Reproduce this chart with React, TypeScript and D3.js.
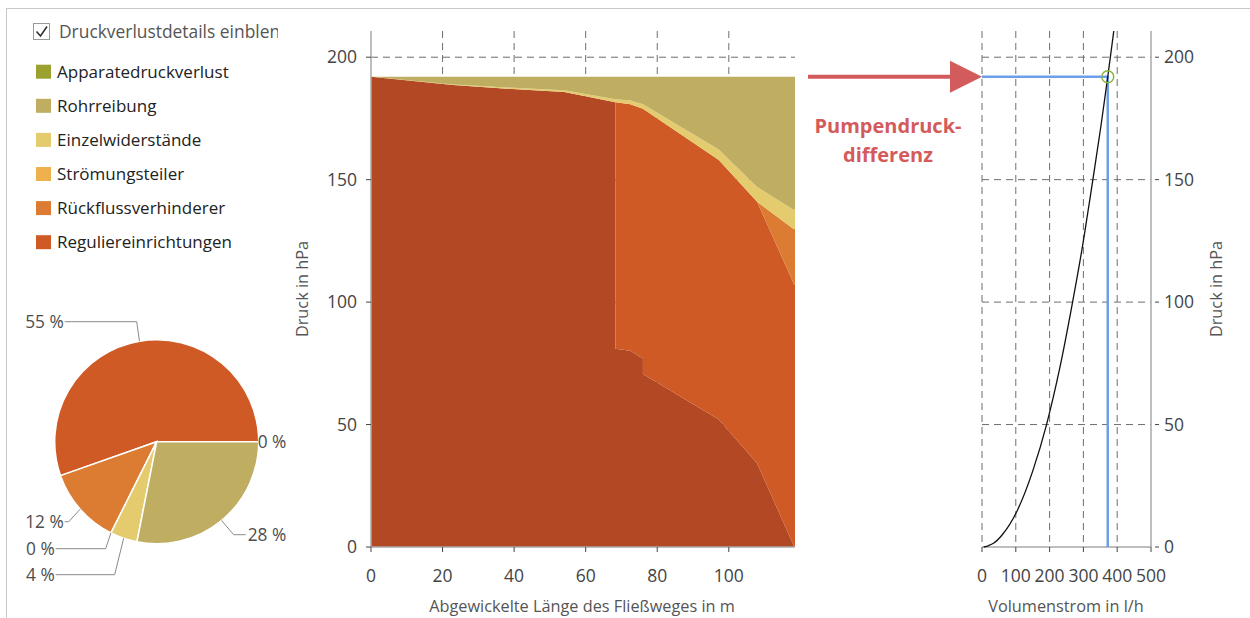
import React from 'react';
import * as d3 from 'd3';

const W = 1250;
const H = 618;
const FONT = '"Open Sans", "Noto Sans", sans-serif';

// ---------- legend ----------
const legendLabels = [
  'Apparatedruckverlust',
  'Rohrreibung',
  'Einzelwiderstände',
  'Strömungsteiler',
  'Rückflussverhinderer',
  'Reguliereinrichtungen',
];
const legendColors = ['#9AA12E', '#BFAD62', '#E3CB6E', '#EFB04E', '#DC7C33', '#D05A25'];

// ---------- stacked pressure along flow path (hPa) ----------
const pathLength = [0, 23, 37, 54, 68.3, 68.3, 72.5, 76, 76, 97.2, 107.9, 118.2, 118.5];
const remainingPressure = [192, 188.6, 187.2, 185.8, 181.6, 81, 80.1, 77, 70.6, 52.1, 34.2, 0.4, 0];
const regulierLoss = [0, 0, 0, 0, 0, 100.6, 100.7, 102, 108.4, 105.9, 106.8, 107, 107];
const rueckflussLoss = [0, 0, 0, 0, 0, 0, 0, 0, 0, 0, 0, 22.3, 23];
const stroemungLoss = [0, 0, 0, 0, 0, 0, 0, 0, 0, 0, 0, 0, 0];
const einzelLoss = [0, 0.3, 0.5, 0.7, 1.2, 1.2, 1.5, 1.8, 1.8, 4.3, 6, 7.9, 8];
const rohrLoss = [0, 3.1, 4.3, 5.5, 9.2, 9.2, 9.7, 11.2, 11.2, 29.7, 45, 54.4, 54];
const apparatLoss = [0, 0, 0, 0, 0, 0, 0, 0, 0, 0, 0, 0, 0];

const stackKeys = ['remaining', 'regulier', 'rueckfluss', 'stroemung', 'einzel', 'rohr', 'apparat'];
const stackColors = ['#B34824', '#D05A25', '#DC7C33', '#EFB04E', '#E3CB6E', '#BFAD62', '#9AA12E'];

const xTicksMain = [0, 20, 40, 60, 80, 100];
const yTicks = [0, 50, 100, 150, 200];
const flowTicks = [0, 100, 200, 300, 400, 500];

// ---------- pie ----------
const pieNames = ['Reguliereinrichtungen', 'Rückflussverhinderer', 'Strömungsteiler', 'Einzelwiderstände', 'Rohrreibung', 'Apparatedruckverlust'];
const pieShares = [55.4, 12.2, 0, 4.3, 28.1, 0];
const pieLabelText = ['55 %', '12 %', '0 %', '4 %', '28 %', '0 %'];
const pieColors = ['#D05A25', '#DC7C33', '#EFB04E', '#E3CB6E', '#BFAD62', '#9AA12E'];
// label layout relative to pie centre: elbow and text anchor
const pieLabelLayout = [
  { ex: -20, ey: -120, tx: -93, side: 'left' },
  { ex: -88, ey: 80, tx: -93, side: 'left' },
  { ex: -51, ey: 107, tx: -102, side: 'left' },
  { ex: -42, ey: 133, tx: -102, side: 'left' },
  { ex: 77, ey: 93, tx: 90, side: 'right' },
  { ex: 101, ey: 0, tx: 100, side: 'right' },
];

// ---------- system curve (flow l/h vs pressure hPa) ----------
const curveFlow = [5, 20, 34, 60, 103, 150, 191, 230, 268, 300, 328, 352, 372, 395];
const curvePressure = [0, 0.6, 1.5, 5, 14.5, 31, 50, 73, 100, 125, 150, 172, 192, 216];
const operatingFlow = 372;
const operatingPressure = 192;

export default function App() {
  const yTop = 31;
  const yBottom = 547;
  const y = d3.scaleLinear().domain([0, 210.7]).range([yBottom, yTop]);
  const x = d3.scaleLinear().domain([0, 118.5]).range([371, 795]);
  const xf = d3.scaleLinear().domain([0, 500]).range([982, 1151]);

  const rows = pathLength.map((d, i) => ({
    x: d,
    remaining: remainingPressure[i],
    regulier: regulierLoss[i],
    rueckfluss: rueckflussLoss[i],
    stroemung: stroemungLoss[i],
    einzel: einzelLoss[i],
    rohr: rohrLoss[i],
    apparat: apparatLoss[i],
  }));
  const series = d3.stack<any>().keys(stackKeys)(rows);
  const area = d3
    .area<any>()
    .x((d) => x(d.data.x))
    .y0((d) => y(d[0]))
    .y1((d) => y(d[1]));

  const pcx = 156.7;
  const pcy = 441.7;
  const pr = 102;
  const pie = d3
    .pie<number>()
    .sort(null)
    .value((d) => d)
    .startAngle(Math.PI / 2)
    .endAngle(Math.PI / 2 - 2 * Math.PI);
  const arcs = pie(pieShares);
  const arcGen = d3.arc<any>().innerRadius(0).outerRadius(pr);

  const curveLine = d3
    .line<number>()
    .x((_, i) => xf(curveFlow[i]))
    .y((d) => y(d))
    .curve(d3.curveMonotoneX);

  const gridColor = '#6e6e6e';
  const dash = '7,5';
  const axisColor = '#a8a8a8';
  const tickText = '#444';
  const tickSize = 17.5;

  const opX = xf(operatingFlow);
  const opY = y(operatingPressure);

  return (
    <svg
      width={W}
      height={H}
      style={{ position: 'absolute', left: 0, top: 0, background: '#fff', fontFamily: FONT }}
    >
      <defs>
        <clipPath id="clipLegendTitle">
          <rect x={0} y={0} width={278} height={60} />
        </clipPath>
        <clipPath id="clipRight">
          <rect x={975} y={yTop} width={190} height={yBottom - yTop + 2} />
        </clipPath>
      </defs>
      <rect x={0} y={0} width={W} height={H} fill="#fff" />
      <line x1={6} y1={8.5} x2={W} y2={8.5} stroke="#c8c8c8" strokeWidth={1} />
      <line x1={6.5} y1={8} x2={6.5} y2={H} stroke="#c8c8c8" strokeWidth={1} />

      <rect x={33.5} y={23.5} width={16} height={16} fill="#fff" stroke="#9a9a9a" strokeWidth={1} />
      <path d="M36.5,31.5 L40.5,36 L47,26.5" fill="none" stroke="#333" strokeWidth={1.6} />
      <text x={59} y={32} dy="0.35em" fontSize={17.4} fill="#555" clipPath="url(#clipLegendTitle)">
        Druckverlustdetails einblenden
      </text>

      {legendLabels.map((lab, i) => {
        const cy = 71.7 + i * 34.1;
        return (
          <g key={lab}>
            <rect x={36} y={cy - 7} width={15} height={14} fill={legendColors[i]} />
            <text x={57} y={cy} dy="0.35em" fontSize={17} fill="#222">
              {lab}
            </text>
          </g>
        );
      })}

      <g transform={`translate(${pcx},${pcy})`}>
        {arcs.map((a, i) =>
          a.value > 0 ? (
            <path key={i} d={arcGen(a) as string} fill={pieColors[i]} stroke="#fff" strokeWidth={1.5} />
          ) : null
        )}
        {arcs.map((a, i) => {
          const mid = (a.startAngle + a.endAngle) / 2;
          const ex0 = pr * Math.sin(mid);
          const ey0 = -pr * Math.cos(mid);
          const L = pieLabelLayout[i];
          const left = L.side === 'left';
          return (
            <g key={'l' + i}>
              {i !== 5 && (
                <polyline
                  points={`${ex0},${ey0} ${L.ex},${L.ey} ${left ? L.tx + 1 : L.tx - 1},${L.ey}`}
                  fill="none"
                  stroke="#8a8a8a"
                  strokeWidth={1}
                />
              )}
              <text
                x={left ? L.tx : L.tx + 1}
                y={L.ey}
                dy="0.35em"
                textAnchor={left ? 'end' : 'start'}
                fontSize={17.3}
                fill="#4d4d4d"
              >
                {pieLabelText[i]}
              </text>
            </g>
          );
        })}
      </g>

      {yTicks.filter((t) => t > 0).map((t) => (
        <line key={'hg' + t} x1={x(0)} x2={x(118.5)} y1={y(t)} y2={y(t)} stroke={gridColor} strokeDasharray={dash} />
      ))}
      {xTicksMain.filter((t) => t > 0).map((t) => (
        <line key={'vg' + t} x1={x(t)} x2={x(t)} y1={yTop} y2={yBottom} stroke={gridColor} strokeDasharray={dash} />
      ))}

      {series.map((s, i) => (
        <path key={stackKeys[i]} d={area(s as any) as string} fill={stackColors[i]} stroke="none" />
      ))}

      <line x1={x(0)} x2={x(0)} y1={yTop} y2={yBottom} stroke={axisColor} strokeWidth={1.5} />
      <line x1={x(0)} x2={x(118.5)} y1={yBottom} y2={yBottom} stroke={axisColor} strokeWidth={1.5} />
      {yTicks.map((t) => (
        <g key={'yt' + t}>
          <line x1={x(0) - 5} x2={x(0)} y1={y(t)} y2={y(t)} stroke="#444" />
          <text x={357} y={y(t)} dy="0.35em" textAnchor="end" fontSize={tickSize} fill={tickText}>
            {t}
          </text>
        </g>
      ))}
      {xTicksMain.map((t) => (
        <g key={'xt' + t}>
          <line x1={x(t)} x2={x(t)} y1={yBottom} y2={yBottom + 5} stroke="#444" />
          <text x={x(t)} y={576} dy="0.35em" textAnchor="middle" fontSize={tickSize} fill={tickText}>
            {t}
          </text>
        </g>
      ))}
      <text
        transform={`translate(302,${(yTop + yBottom) / 2}) rotate(-90)`}
        textAnchor="middle"
        dy="0.35em"
        fontSize={16.3}
        fill="#555"
      >
        Druck in hPa
      </text>
      <text x={582} y={606} dy="0.35em" textAnchor="middle" fontSize={16.3} fill="#555">
        Abgewickelte Länge des Fließweges in m
      </text>

      {yTicks.filter((t) => t > 0).map((t) => (
        <line key={'rhg' + t} x1={xf(0)} x2={xf(500)} y1={y(t)} y2={y(t)} stroke={gridColor} strokeDasharray={dash} />
      ))}
      {flowTicks.filter((t) => t < 500).map((t) => (
        <line key={'rvg' + t} x1={xf(t)} x2={xf(t)} y1={yTop} y2={yBottom} stroke={gridColor} strokeDasharray={dash} />
      ))}
      <line x1={xf(500)} x2={xf(500)} y1={yTop} y2={yBottom} stroke={axisColor} strokeWidth={1.5} />
      <line x1={xf(0)} x2={xf(500)} y1={yBottom} y2={yBottom} stroke={axisColor} strokeWidth={1.5} />
      {flowTicks.map((t) => (
        <g key={'ft' + t}>
          <line x1={xf(t)} x2={xf(t)} y1={yBottom} y2={yBottom + 5} stroke="#444" />
          <text x={xf(t)} y={576} dy="0.35em" textAnchor="middle" fontSize={tickSize} fill={tickText}>
            {t}
          </text>
        </g>
      ))}
      {yTicks.map((t) => (
        <g key={'ryt' + t}>
          <line x1={xf(500) + 4} x2={xf(500) + 8} y1={y(t)} y2={y(t)} stroke="#444" />
          <text x={1164} y={y(t)} dy="0.35em" textAnchor="start" fontSize={tickSize} fill={tickText}>
            {t}
          </text>
        </g>
      ))}
      <text
        transform={`translate(1216,${(yTop + yBottom) / 2}) rotate(-90)`}
        textAnchor="middle"
        dy="0.35em"
        fontSize={16.3}
        fill="#555"
      >
        Druck in hPa
      </text>
      <text x={1066} y={606} dy="0.35em" textAnchor="middle" fontSize={16.3} fill="#555">
        Volumenstrom in l/h
      </text>

      <polyline
        points={`${xf(0)},${opY} ${opX},${opY} ${opX},${yBottom}`}
        fill="none"
        stroke="#6D9EEB"
        strokeWidth={2.5}
      />
      <path d={curveLine(curvePressure) as string} fill="none" stroke="#111" strokeWidth={1.3} clipPath="url(#clipRight)" />
      <circle cx={opX} cy={opY} r={6} fill="none" stroke="#8CB43C" strokeWidth={1.5} />

      <line x1={808} x2={952} y1={opY} y2={opY} stroke="#D45B5B" strokeWidth={4} />
      <path d={`M950,${opY - 16} L${xf(0)},${opY} L950,${opY + 16} Z`} fill="#D45B5B" />
      <text x={888} y={133} textAnchor="middle" fontSize={20} fontWeight={700} fill="#D45B5B">
        Pumpendruck-
      </text>
      <text x={888} y={161.5} textAnchor="middle" fontSize={20} fontWeight={700} fill="#D45B5B">
        differenz
      </text>
    </svg>
  );
}
